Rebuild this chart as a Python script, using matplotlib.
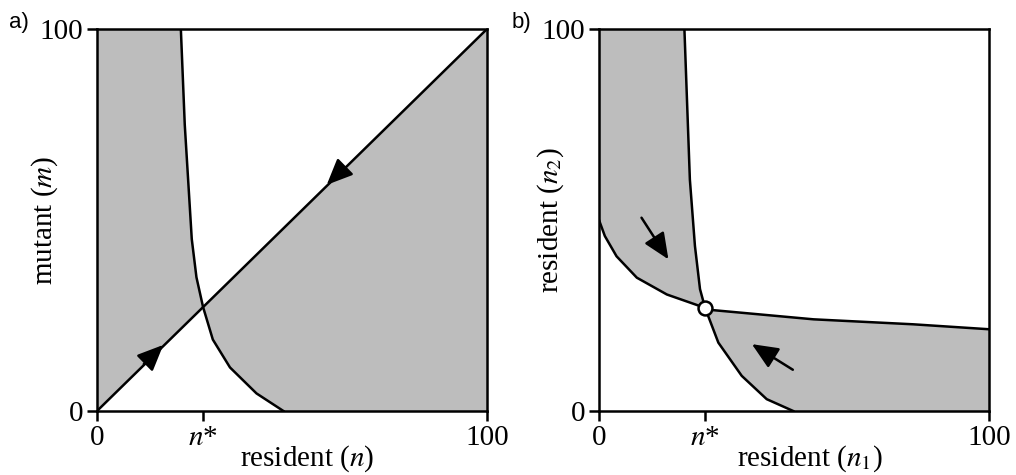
import numpy as np
import matplotlib
matplotlib.use("Agg")
import matplotlib.pyplot as plt

plt.rcParams["font.family"] = ["Liberation Serif", "DejaVu Serif"]
plt.rcParams["mathtext.fontset"] = "stix"

# ── data ────────────────────────────────────────────────────────────────
N_STAR = 27.2
FILL = "#bdbdbd"
LW = 1.8

# panel a: mutant invasion boundary (top -> bottom)
a_curve_x = [21.5, 22.5, 24.3, 25.5, 27.2, 29.7, 34.1, 40.9, 47.8]
a_curve_y = [100, 75, 45, 35, 27.2, 18.7, 11.4, 4.6, 0]
a_diag = [0, 100]
a_arrows = [((12.0, 12.3), (17.0, 17.3)), ((63.0, 63.3), (58.9, 59.2))]  # (tail, tip)

# panel b: two isoclines
b_iso1_x = [21.9, 23.3, 24.6, 25.9, 27.2, 30.6, 36.6, 43.0, 49.8]
b_iso1_y = [100, 60.6, 43.2, 31.9, 27.0, 17.9, 9.2, 3.1, 0]
b_iso2_x = [0, 1.5, 4.5, 9.7, 17.4, 27.2, 29.3, 55.0, 80.5, 100]
b_iso2_y = [50.0, 45.8, 40.5, 34.9, 30.5, 27.0, 26.4, 24.0, 22.7, 21.4]
b_eq = (27.2, 27.0)
b_arrows = [((10.9, 50.6), (17.8, 39.7)), ((49.7, 10.8), (39.2, 17.5))]

TICK_LABELS = ["0", "$n$*", "100"]


def style_axes(ax, xlabel, ylabel, ylab_x):
    ax.set_xlim(0, 100)
    ax.set_ylim(0, 100)
    ax.set_xticks([0, N_STAR, 100])
    ax.set_xticklabels(TICK_LABELS)
    ax.set_yticks([0, 100])
    ax.set_yticklabels(["0", "100"])
    ax.tick_params(direction="out", length=7, width=LW, labelsize=21, pad=3)
    for s in ax.spines.values():
        s.set_linewidth(LW)
    ax.set_xlabel(xlabel, fontsize=21)
    ax.set_ylabel(ylabel, fontsize=21)
    ax.xaxis.set_label_coords(0.54, -0.085)
    ax.yaxis.set_label_coords(ylab_x, 0.5)


def arrow(ax, tail, tip):
    ax.annotate("", xy=tip, xytext=tail,
                arrowprops=dict(arrowstyle="-|>,head_length=0.8,head_width=0.35",
                                color="black", lw=LW, mutation_scale=20,
                                shrinkA=0, shrinkB=0), zorder=5)


fig = plt.figure(figsize=(10.16, 4.75), dpi=100)
ax_a = fig.add_axes([97 / 1016, 1 - 411 / 475, 390 / 1016, 382 / 475])
ax_b = fig.add_axes([599 / 1016, 1 - 411 / 475, 390 / 1016, 382 / 475])

# ── panel a ──────────────────────────────────────────────────────────────
cx, cy = np.array(a_curve_x), np.array(a_curve_y)
k = int(np.argmin(np.abs(cx - N_STAR)))
left_x = np.r_[0, cx[k], cx[:k + 1][::-1], 0]
left_y = np.r_[0, cy[k], cy[:k + 1][::-1], 100]
ax_a.fill(left_x, left_y, color=FILL, lw=0)
right_x = np.r_[cx[k:], 100, 100]
right_y = np.r_[cy[k:], 0, 100]
ax_a.fill(right_x, right_y, color=FILL, lw=0)
ax_a.plot(cx, cy, color="black", lw=LW)
ax_a.plot(a_diag, a_diag, color="black", lw=LW)
for tail, tip in a_arrows:
    arrow(ax_a, tail, tip)
style_axes(ax_a, "resident ($n$)", "mutant ($m$)", -0.095)

# ── panel b ──────────────────────────────────────────────────────────────
x1, y1 = np.array(b_iso1_x), np.array(b_iso1_y)
x2, y2 = np.array(b_iso2_x), np.array(b_iso2_y)
i1 = int(np.argmin(np.abs(x1 - b_eq[0])))
i2 = int(np.argmin(np.abs(x2 - b_eq[0])))
ax_b.fill(np.r_[0, x2[:i2 + 1], x1[:i1 + 1][::-1]],
          np.r_[100, y2[:i2 + 1], y1[:i1 + 1][::-1]], color=FILL, lw=0)
ax_b.fill(np.r_[x2[i2:], 100, x1[i1:][::-1]],
          np.r_[y2[i2:], 0, y1[i1:][::-1]], color=FILL, lw=0)
ax_b.plot(x1, y1, color="black", lw=LW)
ax_b.plot(x2, y2, color="black", lw=LW)
ax_b.plot(*b_eq, "o", ms=10, mfc="white", mec="black", mew=LW, zorder=6,
          clip_on=False)
for tail, tip in b_arrows:
    arrow(ax_b, tail, tip)
style_axes(ax_b, "resident ($n_1$)", "resident ($n_2$)", -0.085)

fig.text(9 / 1016, 1 - 28 / 475, "a)", family="Liberation Sans", fontsize=16)
fig.text(512 / 1016, 1 - 28 / 475, "b)", family="Liberation Sans", fontsize=16)

fig.savefig("out.png", dpi=100)
